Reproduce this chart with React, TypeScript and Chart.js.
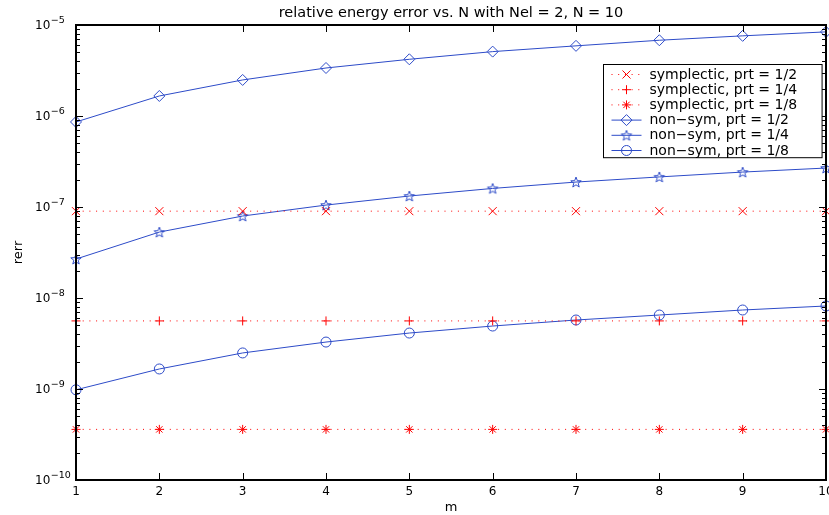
import React, { useEffect, useRef } from "react";
import { Chart, registerables } from "chart.js";
import { drawPoint } from "chart.js/helpers";

Chart.register(...registerables);

// ---------- data ----------
const mValues = [1, 2, 3, 4, 5, 6, 7, 8, 9, 10];

const symplecticHalf = [9.0e-8, 9.0e-8, 9.0e-8, 9.0e-8, 9.0e-8, 9.0e-8, 9.0e-8, 9.0e-8, 9.0e-8, 9.0e-8];
const symplecticQuarter = [5.6e-9, 5.6e-9, 5.6e-9, 5.6e-9, 5.6e-9, 5.6e-9, 5.6e-9, 5.6e-9, 5.6e-9, 5.6e-9];
const symplecticEighth = [3.6e-10, 3.6e-10, 3.6e-10, 3.6e-10, 3.6e-10, 3.6e-10, 3.6e-10, 3.6e-10, 3.6e-10, 3.6e-10];

const nonSymHalf = [8.6e-7, 1.66e-6, 2.49e-6, 3.37e-6, 4.2e-6, 5.1e-6, 5.9e-6, 6.8e-6, 7.6e-6, 8.4e-6];
const nonSymQuarter = [2.68e-8, 5.3e-8, 7.96e-8, 1.05e-7, 1.32e-7, 1.6e-7, 1.88e-7, 2.14e-7, 2.42e-7, 2.68e-7];
const nonSymEighth = [0.98e-9, 1.66e-9, 2.49e-9, 3.28e-9, 4.12e-9, 4.92e-9, 5.73e-9, 6.5e-9, 7.38e-9, 8.17e-9];

const seriesLabels = [
  "symplectic, prt = 1/2",
  "symplectic, prt = 1/4",
  "symplectic, prt = 1/8",
  "non\u2212sym, prt = 1/2",
  "non\u2212sym, prt = 1/4",
  "non\u2212sym, prt = 1/8",
];

const xTickValues = [1, 2, 3, 4, 5, 6, 7, 8, 9, 10];
const yTickValues = [1e-10, 1e-9, 1e-8, 1e-7, 1e-6, 1e-5];
const yTickBase = "10";
const yTickExponents = ["\u221210", "\u22129", "\u22128", "\u22127", "\u22126", "\u22125"];
const yMinorFactors = [2, 3, 4, 5, 6, 7, 8, 9];

const titleText = "relative energy error vs. N with Nel = 2, N = 10";
const xTitle = "m";
const yTitle = "rerr";

// ---------- styles ----------
const RED = "rgb(255,0,0)";
const BLUE = "rgb(45,75,200)";
const FONT = '"DejaVu Sans", sans-serif';

function makePentagram(color: string, r: number) {
  const size = Math.ceil(r * 2 + 3);
  const c = document.createElement("canvas");
  c.width = size;
  c.height = size;
  const g = c.getContext("2d")!;
  const cx = size / 2;
  const cy = size / 2 + 0.5;
  const inner = r * 0.42;
  g.beginPath();
  for (let i = 0; i < 10; i++) {
    const rad = i % 2 === 0 ? r : inner;
    const ang = -Math.PI / 2 + (i * Math.PI) / 5;
    const px = cx + rad * Math.cos(ang);
    const py = cy + rad * Math.sin(ang);
    if (i === 0) g.moveTo(px, py);
    else g.lineTo(px, py);
  }
  g.closePath();
  g.strokeStyle = color;
  g.lineWidth = 1;
  g.stroke();
  return c;
}

const ticksPlugin = {
  id: "matlabTicks",
  afterDatasetsDraw(chart: any) {
    const { ctx, chartArea: a, scales } = chart;
    const xs = scales.x;
    const ys = scales.y;
    ctx.save();
    ctx.setLineDash([]);
    ctx.strokeStyle = "#000";
    ctx.lineWidth = 1;
    ctx.beginPath();
    for (const v of xTickValues) {
      const px = Math.round(xs.getPixelForValue(v)) + 0.5;
      ctx.moveTo(px, a.bottom);
      ctx.lineTo(px, a.bottom - 7);
      ctx.moveTo(px, a.top);
      ctx.lineTo(px, a.top + 7);
    }
    for (const d of yTickValues) {
      const py = Math.round(ys.getPixelForValue(d)) + 0.5;
      ctx.moveTo(a.left, py);
      ctx.lineTo(a.left + 7, py);
      ctx.moveTo(a.right, py);
      ctx.lineTo(a.right - 7, py);
      if (d < 1e-5) {
        for (const k of yMinorFactors) {
          const pm = Math.round(ys.getPixelForValue(d * k)) + 0.5;
          ctx.moveTo(a.left, pm);
          ctx.lineTo(a.left + 4, pm);
          ctx.moveTo(a.right, pm);
          ctx.lineTo(a.right - 4, pm);
        }
      }
    }
    ctx.stroke();
    ctx.lineWidth = 2;
    ctx.strokeRect(a.left, a.top, a.right - a.left, a.bottom - a.top);

    // y tick labels: "10" with a raised exponent
    ctx.fillStyle = "#000";
    ctx.textAlign = "left";
    ctx.textBaseline = "middle";
    yTickValues.forEach((v, i) => {
      const py = ys.getPixelForValue(v);
      const lx = a.left - 41;
      ctx.font = `12px ${FONT}`;
      ctx.fillText(yTickBase, lx, py + 0.5);
      const w = ctx.measureText(yTickBase).width;
      ctx.font = `9.5px ${FONT}`;
      ctx.fillText(yTickExponents[i], lx + w + 0.5, py - 4);
    });
    ctx.restore();
  },
};

const legendPlugin = {
  id: "matlabLegend",
  afterDraw(chart: any) {
    const { ctx, chartArea: a } = chart;
    const ds = chart.data.datasets;
    ctx.save();
    ctx.font = `14px ${FONT}`;
    let tw = 0;
    for (const d of ds) tw = Math.max(tw, ctx.measureText(d.label).width);
    const rowH = 15.2;
    const boxW = 46 + tw + 25;
    const boxH = rowH * ds.length + 2;
    const bx = Math.round(a.right - 4 - boxW) + 0.5;
    const by = Math.round(a.top + 39) + 0.5;
    ctx.fillStyle = "#fff";
    ctx.fillRect(bx, by, boxW, boxH);
    ctx.strokeStyle = "#000";
    ctx.lineWidth = 1;
    ctx.setLineDash([]);
    ctx.strokeRect(bx, by, boxW, boxH);
    ds.forEach((d: any, i: number) => {
      const cy = by + 10 + i * rowH;
      ctx.strokeStyle = d.borderColor;
      ctx.lineWidth = 1;
      ctx.setLineDash(d.borderDash || []);
      ctx.beginPath();
      ctx.moveTo(bx + 8, cy);
      ctx.lineTo(bx + 38, cy);
      ctx.stroke();
      ctx.setLineDash([]);
      ctx.fillStyle = "rgba(0,0,0,0)";
      ctx.strokeStyle = d.pointBorderColor;
      ctx.lineWidth = 1;
      drawPoint(ctx, { pointStyle: d.pointStyle, radius: d.pointRadius, borderWidth: 1, rotation: 0 } as any, bx + 23, cy);
      ctx.fillStyle = "#000";
      ctx.textAlign = "left";
      ctx.textBaseline = "middle";
      ctx.fillText(d.label, bx + 46, cy + 0.5);
    });
    ctx.restore();
  },
};

export default function App() {
  const ref = useRef<HTMLCanvasElement>(null);

  useEffect(() => {
    if (!ref.current) return;
    const star = makePentagram(BLUE, 5.5);
    const mk = (label: string, values: number[], color: string, dash: number[], style: any, radius: number) => ({
      label,
      data: mValues.map((m, i) => ({ x: m, y: values[i] })),
      borderColor: color,
      borderWidth: 1,
      borderDash: dash,
      pointStyle: style,
      pointRadius: radius,
      pointHoverRadius: radius,
      pointBorderColor: color,
      pointBackgroundColor: "rgba(0,0,0,0)",
      pointBorderWidth: 1,
      tension: 0,
      fill: false,
      clip: false as any,
    });
    const dot = [1, 5.7];
    const chart = new Chart(ref.current, {
      type: "line",
      data: {
        datasets: [
          mk(seriesLabels[0], symplecticHalf, RED, dot, "crossRot", 5.7),
          mk(seriesLabels[1], symplecticQuarter, RED, dot, "cross", 4.5),
          mk(seriesLabels[2], symplecticEighth, RED, dot, "star", 4.5),
          mk(seriesLabels[3], nonSymHalf, BLUE, [], "rectRot", 5.5),
          mk(seriesLabels[4], nonSymQuarter, BLUE, [], star, 5.5),
          mk(seriesLabels[5], nonSymEighth, BLUE, [], "circle", 5),
        ],
      },
      options: {
        responsive: false,
        animation: false,
        devicePixelRatio: 1,
        layout: { autoPadding: false, padding: { left: 0, right: 3, top: 0, bottom: 0 } },
        plugins: {
          legend: { display: false },
          tooltip: { enabled: false },
          title: {
            display: true,
            text: titleText,
            fullSize: false,
            color: "#000",
            font: { family: FONT, size: 14.5, weight: "normal", lineHeight: 1.2 },
            padding: { top: 4.5, bottom: 3.1 },
          },
        },
        scales: {
          x: {
            type: "linear",
            min: 1,
            max: 10,
            afterBuildTicks: (s: any) => {
              s.ticks = xTickValues.map((v) => ({ value: v }));
            },
            afterFit: (s: any) => {
              s.height = 35;
              s.paddingLeft = 0;
              s.paddingRight = 0;
            },
            grid: { display: false, drawTicks: false },
            border: { display: false },
            ticks: {
              color: "#000",
              font: { family: FONT, size: 12 },
              padding: 5,
              maxRotation: 0,
              autoSkip: false,
              callback: (v: any) => String(v),
            },
            title: {
              display: true,
              text: xTitle,
              color: "#000",
              font: { family: FONT, size: 13 },
              padding: { top: 0, bottom: 0 },
            },
          },
          y: {
            type: "logarithmic",
            min: 1e-10,
            max: 1e-5,
            afterBuildTicks: (s: any) => {
              s.ticks = yTickValues.map((v) => ({ value: v }));
            },
            afterFit: (s: any) => {
              s.width = 76;
              s.paddingTop = 0;
              s.paddingBottom = 0;
            },
            grid: { display: false, drawTicks: false },
            border: { display: false },
            ticks: { display: false },
            title: {
              display: true,
              text: yTitle,
              color: "#000",
              font: { family: FONT, size: 13 },
              padding: { top: 11, bottom: 0 },
            },
          },
        },
      },
      plugins: [ticksPlugin, legendPlugin],
    });
    return () => chart.destroy();
  }, []);

  return (
    <div style={{ position: "absolute", left: 0, top: 0, width: 829, height: 515, background: "#fff" }}>
      <canvas ref={ref} width={829} height={515} style={{ width: 829, height: 515, display: "block" }} />
    </div>
  );
}
